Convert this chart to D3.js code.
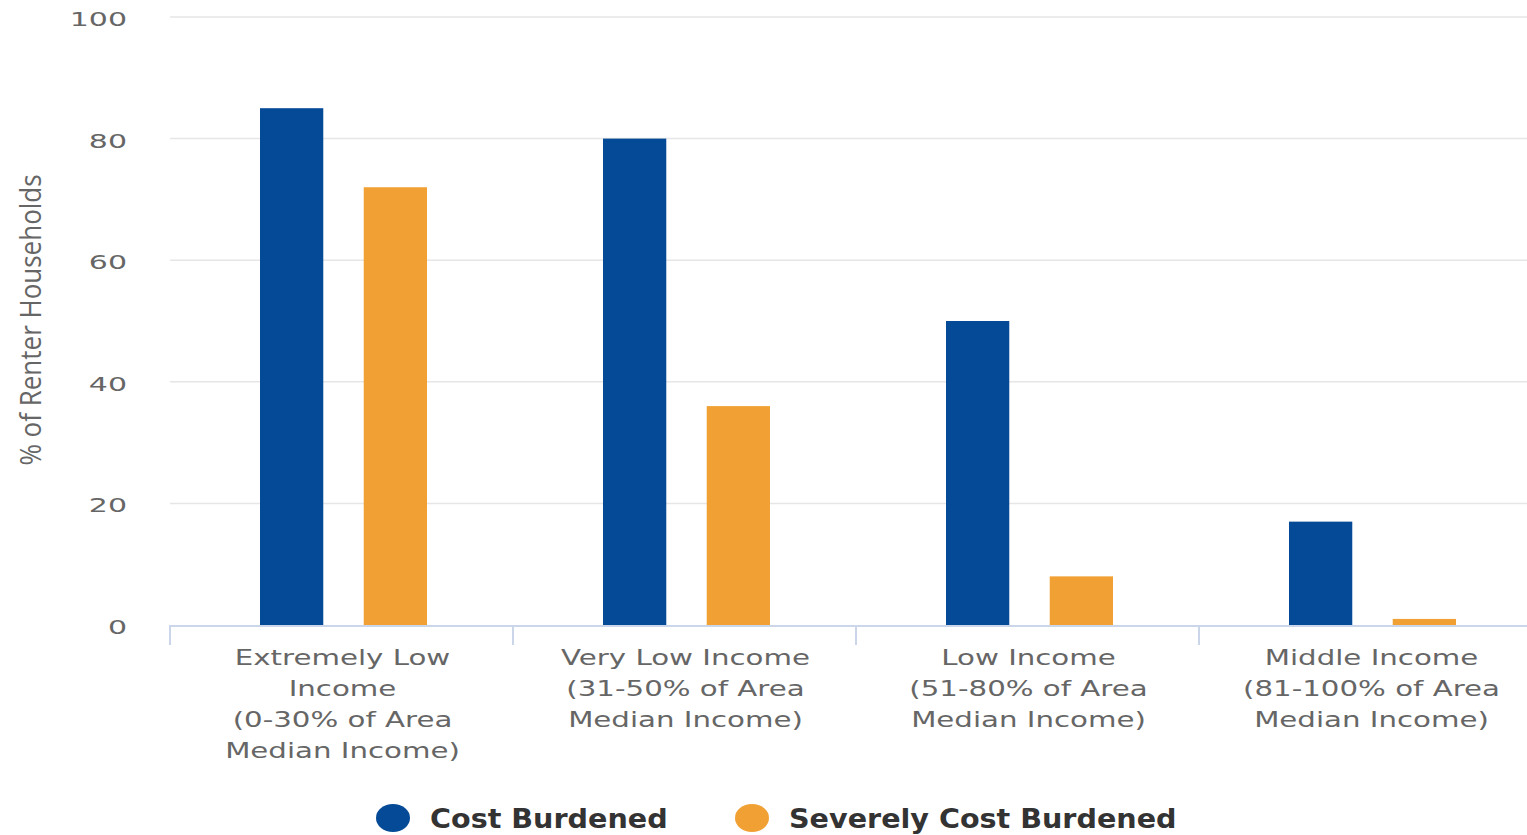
<!DOCTYPE html>
<html>
<head>
<meta charset="utf-8">
<script src="https://cdn.jsdelivr.net/npm/d3@7"></script>
<style>
  html, body { margin: 0; padding: 0; background: #fff; overflow: hidden; }
  svg { display: block; }
</style>
</head>
<body>
<div id="chart"></div>
<script>
const categories = [
  ["Extremely Low", "Income", "(0-30% of Area", "Median Income)"],
  ["Very Low Income", "(31-50% of Area", "Median Income)"],
  ["Low Income", "(51-80% of Area", "Median Income)"],
  ["Middle Income", "(81-100% of Area", "Median Income)"]
];
const seriesNames = ["Cost Burdened", "Severely Cost Burdened"];
const costBurdened = [85, 80, 50, 17];
const severelyCostBurdened = [72, 36, 8, 1];
const yTicks = [0, 20, 40, 60, 80, 100];
const colors = ["#054a96", "#f1a033"];
const yTitle = "% of Renter Households";

const W = 1527, H = 835;
const svg = d3.select("#chart").append("svg").attr("width", W).attr("height", H);

const plotLeft = 170, plotTop = 17, plotBottom = 625;
const bandW = 343;
const x0 = d3.scaleBand().domain(d3.range(categories.length)).range([plotLeft, plotLeft + bandW * categories.length]).padding(0);
const x1 = d3.scaleBand().domain(d3.range(seriesNames.length)).range([90, 257]).paddingInner(0.39).paddingOuter(0);
const y = d3.scaleLinear().domain([0, 100]).range([plotBottom, plotTop]);

const font = "'DejaVu Sans', Verdana, sans-serif";

// gridlines
svg.append("g").selectAll("line").data(yTicks.filter(d => d > 0)).join("line")
  .attr("x1", plotLeft).attr("x2", W)
  .attr("y1", d => y(d)).attr("y2", d => y(d))
  .attr("stroke", "#e6e6e6").attr("stroke-width", 1.5);

// y tick labels
svg.append("g").selectAll("text").data(yTicks).join("text")
  .attr("transform", d => `translate(127,${y(d) + 9}) scale(1.5,1)`)
  .attr("text-anchor", "end")
  .attr("font-family", font).attr("font-size", 20)
  .attr("fill", "#666")
  .text(d => d);

// y title
svg.append("text")
  .attr("transform", `translate(41,${320}) rotate(-90) scale(1,1.15)`)
  .attr("text-anchor", "middle")
  .attr("font-family", "'Open Sans', sans-serif").attr("font-size", 26)
  .attr("fill", "#666")
  .text(yTitle);

// bars
const data = categories.map((c, i) => [costBurdened[i], severelyCostBurdened[i]]);
const groups = svg.append("g").selectAll("g").data(data).join("g")
  .attr("transform", (d, i) => `translate(${x0(i)},0)`);
groups.selectAll("rect").data(d => d).join("rect")
  .attr("x", (d, j) => x1(j))
  .attr("width", x1.bandwidth())
  .attr("y", d => y(d))
  .attr("height", d => y(0) - y(d))
  .attr("fill", (d, j) => colors[j]);

// x axis line and ticks
const axis = svg.append("g").attr("stroke", "#ccd6eb").attr("stroke-width", 2);
axis.append("line").attr("x1", plotLeft).attr("x2", W).attr("y1", plotBottom + 1).attr("y2", plotBottom + 1);
axis.selectAll("line.tick").data(d3.range(categories.length + 1)).join("line")
  .attr("class", "tick")
  .attr("x1", i => plotLeft + bandW * i).attr("x2", i => plotLeft + bandW * i)
  .attr("y1", plotBottom).attr("y2", plotBottom + 20);

// x labels
const xl = svg.append("g").selectAll("text").data(categories).join("text")
  .attr("transform", (d, i) => `translate(${x0(i) + bandW / 2 + 1},665) scale(1.33,1)`)
  .attr("text-anchor", "middle")
  .attr("font-family", font).attr("font-size", 22)
  .attr("fill", "#666");
xl.selectAll("tspan").data(d => d).join("tspan")
  .attr("x", 0)
  .attr("dy", (d, k) => k === 0 ? 0 : 31)
  .text(d => d);

// legend
const legendX = [393, 752];
const lg = svg.append("g").selectAll("g").data(seriesNames).join("g")
  .attr("transform", (d, i) => `translate(${legendX[i]},818)`);
lg.append("ellipse").attr("rx", 17).attr("ry", 14).attr("fill", (d, i) => colors[i]);
lg.append("text").attr("transform", "translate(37,10) scale(1.1,1)")
  .attr("font-family", font).attr("font-size", 26).attr("font-weight", "bold")
  .attr("fill", "#333")
  .text(d => d);
</script>
</body>
</html>
